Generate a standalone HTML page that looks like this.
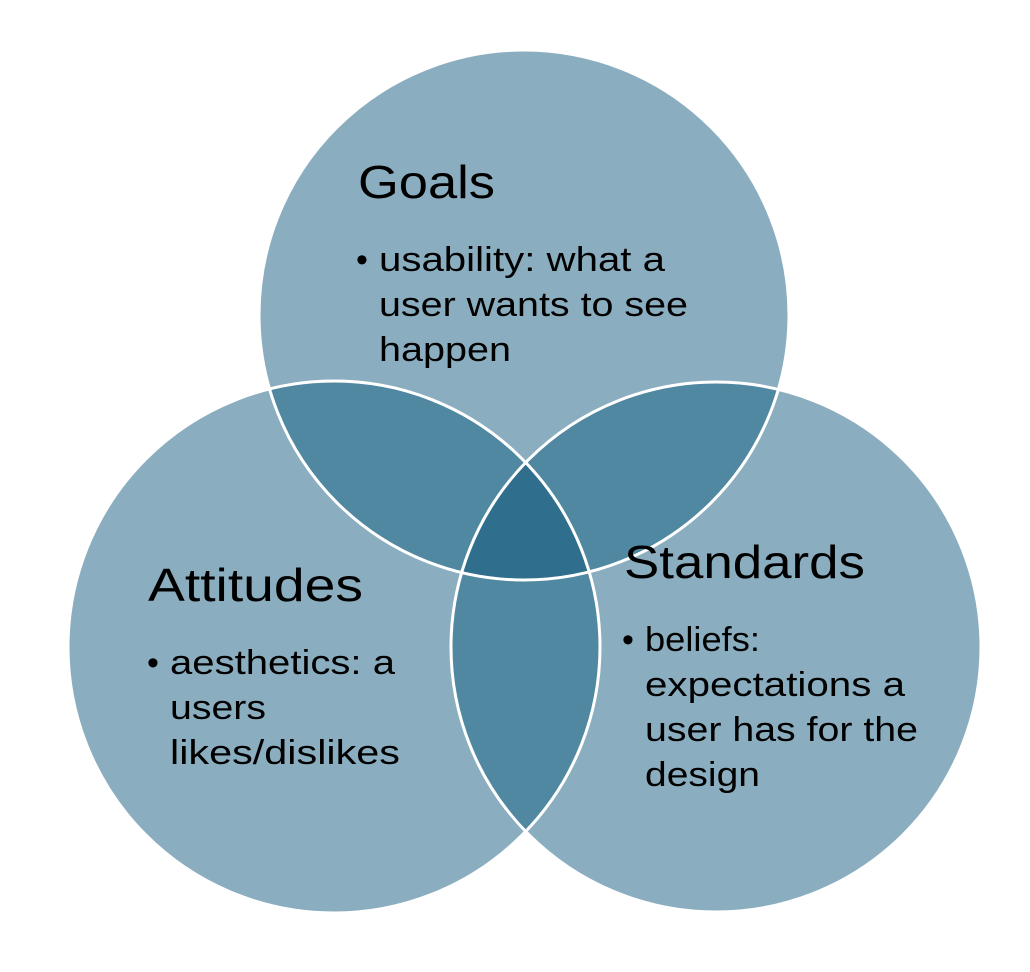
<!DOCTYPE html>
<html><head><meta charset="utf-8"><style>
html,body{margin:0;padding:0;background:#fff;}
svg text{font-family:"Liberation Sans",sans-serif;fill:#000;}
</style></head><body>
<svg width="1030" height="967" viewBox="0 0 1030 967" xmlns="http://www.w3.org/2000/svg">
<defs>
<clipPath id="cT"><circle cx="524" cy="315" r="265"/></clipPath>
<clipPath id="cL"><circle cx="334" cy="647" r="266"/></clipPath>
<clipPath id="cR"><circle cx="716" cy="647" r="265"/></clipPath>
</defs>
<circle cx="524" cy="315" r="265" fill="#8aaec0"/>
<circle cx="334" cy="647" r="266" fill="#8aaec0"/>
<circle cx="716" cy="647" r="265" fill="#8aaec0"/>
<g clip-path="url(#cT)"><circle cx="334" cy="647" r="266" fill="#4f88a0"/><circle cx="716" cy="647" r="265" fill="#4f88a0"/></g>
<g clip-path="url(#cL)"><circle cx="716" cy="647" r="265" fill="#4f88a0"/></g>
<g clip-path="url(#cT)"><g clip-path="url(#cL)"><circle cx="716" cy="647" r="265" fill="#2f6e8c"/></g></g>
<g fill="none" stroke="#fff" stroke-width="3">
<circle cx="524" cy="315" r="265"/>
<circle cx="334" cy="647" r="266"/>
<circle cx="716" cy="647" r="265"/>
</g>
<g font-size="46">
<text x="358" y="198" textLength="137" lengthAdjust="spacingAndGlyphs">Goals</text>
<text x="148" y="601" textLength="215" lengthAdjust="spacingAndGlyphs">Attitudes</text>
<text x="624" y="578" textLength="241" lengthAdjust="spacingAndGlyphs">Standards</text>
</g>
<g font-size="34">
<text x="356" y="271">•</text>
<text x="379" y="271" textLength="286" lengthAdjust="spacingAndGlyphs">usability: what a</text>
<text x="379" y="316" textLength="309" lengthAdjust="spacingAndGlyphs">user wants to see</text>
<text x="379" y="361" textLength="132" lengthAdjust="spacingAndGlyphs">happen</text>
<text x="147" y="674">•</text>
<text x="170" y="674" textLength="225" lengthAdjust="spacingAndGlyphs">aesthetics: a</text>
<text x="170" y="719" textLength="96" lengthAdjust="spacingAndGlyphs">users</text>
<text x="170" y="764" textLength="230" lengthAdjust="spacingAndGlyphs">likes/dislikes</text>
<text x="622" y="651">•</text>
<text x="645" y="651" textLength="115" lengthAdjust="spacingAndGlyphs">beliefs:</text>
<text x="645" y="696" textLength="260" lengthAdjust="spacingAndGlyphs">expectations a</text>
<text x="645" y="741" textLength="273" lengthAdjust="spacingAndGlyphs">user has for the</text>
<text x="645" y="786" textLength="115" lengthAdjust="spacingAndGlyphs">design</text>
</g>
</svg>
</body></html>
